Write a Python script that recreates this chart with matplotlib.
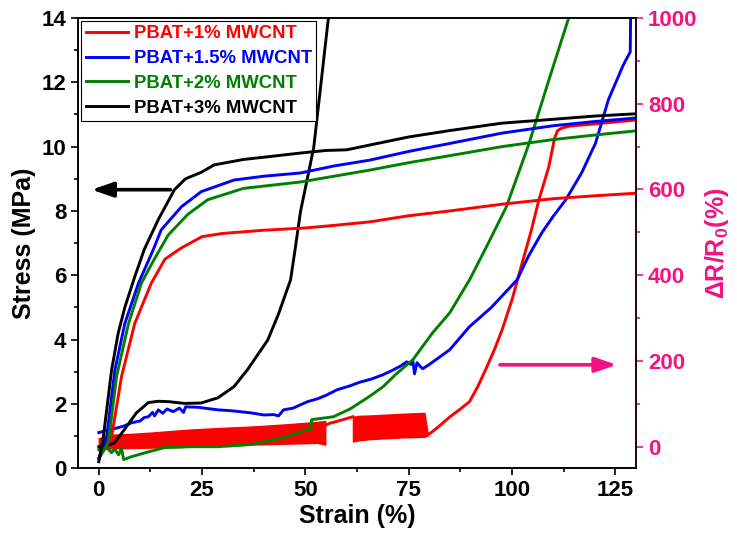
import matplotlib
matplotlib.use('Agg')
import matplotlib.pyplot as plt
from matplotlib.ticker import MultipleLocator

plt.rcParams['font.family'] = ['Liberation Sans', 'DejaVu Sans']
plt.rcParams['font.weight'] = 'bold'
plt.rcParams['mathtext.fontset'] = 'custom'
plt.rcParams['mathtext.bf'] = 'Liberation Sans:bold'
plt.rcParams['mathtext.rm'] = 'Liberation Sans:bold'

PINK = '#F5117F'
labels = ['PBAT+1% MWCNT', 'PBAT+1.5% MWCNT', 'PBAT+2% MWCNT', 'PBAT+3% MWCNT']
colors = ['#FF0000', '#0000FF', '#008000', '#000000']

# stress-strain curves (left axis)
red_s_x = [0, 3.1, 5.5, 8.7, 12.7, 16, 20, 25, 30, 40, 50, 57, 65.6, 75, 85, 97.6, 110, 120, 130]
red_s_y = [0.3, 0.97, 2.85, 4.5, 5.75, 6.5, 6.85, 7.2, 7.3, 7.4, 7.47, 7.55, 7.66, 7.85, 8.0, 8.21, 8.38, 8.47, 8.55]
blue_s_x = [0, 1.9, 3.9, 6.3, 9.6, 13.2, 15.1, 20, 24.8, 32.7, 40, 48.8, 57, 65.6, 75, 85, 97.6, 110, 120, 130]
blue_s_y = [0.3, 0.97, 3.05, 4.5, 5.75, 6.8, 7.41, 8.13, 8.6, 8.96, 9.08, 9.18, 9.4, 9.58, 9.85, 10.1, 10.42, 10.65, 10.78, 10.89]
green_s_x = [0, 2.3, 4.3, 7.2, 10.3, 13, 16.8, 21.6, 26.4, 35, 48.8, 57, 65.6, 75, 85, 97.6, 110, 120, 130]
green_s_y = [0.3, 0.78, 2.85, 4.5, 5.75, 6.4, 7.25, 7.9, 8.35, 8.7, 8.9, 9.08, 9.27, 9.5, 9.72, 10.0, 10.22, 10.36, 10.49]
black_s_x = [0, 1.1, 3.1, 4.7, 6.3, 8.7, 11, 14.4, 18.3, 21, 24.8, 27.9, 35, 42, 48.8, 55, 60, 65.6, 75, 85, 97.6, 110, 120, 130]
black_s_y = [0.2, 0.97, 3.05, 4.2, 5.0, 5.95, 6.8, 7.73, 8.66, 9.0, 9.2, 9.43, 9.6, 9.7, 9.8, 9.88, 9.9, 10.05, 10.3, 10.5, 10.73, 10.85, 10.95, 11.02]

# resistance change curves (right axis)
red_band1_x = [0, 3, 8, 12.7, 18, 22, 30, 36.8, 45, 52.9, 54.8]
red_band1_lo = [-5, -4, -3, -2, -1, 0, 3, 5, 7, 9, 5]
red_band1_hi = [20, 28, 30, 33, 37, 40, 44, 47, 52, 58, 60]
red_band2_x = [61.5, 63, 66, 70, 74, 78.8, 79.6]
red_band2_lo = [12, 15, 18, 20, 22, 23, 26]
red_band2_hi = [70, 72, 73, 75, 77, 79, 30]
red_r1_x = [54.8, 56, 58, 60.8, 61.5]
red_r1_y = [50, 55, 60, 68, 70]
red_r2_x = [79.6, 80, 82, 85, 87.5, 89.7, 91.8, 93.8, 95.8, 97.6, 100, 102.2, 104.5, 106.5, 108.9, 110.3, 111, 112,
            114, 120, 130]
red_r2_y = [28, 30, 45, 70, 88, 105, 142, 184, 228, 273, 343, 420, 499, 576, 653, 720, 737, 743,
            748, 753, 762]

blue_r_x = [0, 3, 6, 8, 10, 11, 12, 13, 13.5, 14.4, 15.5, 16.5, 18, 19.5, 20.5, 21, 24, 28.8, 32, 36.8, 40, 42.3,
            43.5, 44.7, 47, 50.5, 53, 55, 57.7, 60.8, 63, 66, 68.8, 71, 73, 74.5, 75.5, 76, 76.4, 77, 78, 78.4, 80,
            84.9, 89.7, 95, 101.2, 104, 107.2, 110, 113, 116.8, 120.2, 123.3, 126.9, 128.6, 128.7]
blue_r_y = [33, 40, 48, 56, 60, 68, 70, 80, 72, 86, 78, 88, 82, 90, 80, 93, 92, 86, 84, 79, 74, 75,
            72, 86, 90, 105, 112, 120, 133, 142, 150, 158, 168, 178, 188, 198, 192, 200, 170, 196, 185, 182, 192,
            226, 280, 325, 389, 445, 499, 538, 576, 638, 708, 809, 890, 921, 1010]
green_r_x = [0, 1.9, 3.1, 3.8, 4.8, 5.5, 6, 8, 12, 15.9, 22.4, 28.8, 36.8, 44.7, 50.5, 51.3, 51.5, 56.8, 60.8,
             65.6, 68.8, 72, 76, 80.8, 84.9, 89.7, 94, 98.6, 104, 108.9, 113.7, 114]
green_r_y = [-7, -2, -14, -5, -19, -3, -30, -23, -12, -2, 0, 0, 5, 21, 40, 42, 63, 70, 88,
             118, 140, 170, 203, 266, 312, 389, 470, 559, 704, 855, 1000, 1010]
black_r_x = [0, 2, 3.8, 6.2, 9.1, 12, 14.4, 17, 20.7, 24.8, 28.8, 32.7, 36, 40.9, 43.5, 46.4, 47.5, 48.8, 52, 55.5, 55.8]
black_r_y = [0, 3, 9, 40, 79, 103, 106, 105, 101, 102, 114, 140, 180, 249, 310, 389, 460, 548, 697, 995, 1010]

fig, ax = plt.subplots(figsize=(7.37, 5.45), dpi=100)
fig.subplots_adjust(left=0.106, right=0.863, bottom=0.141, top=0.967)
ax2 = ax.twinx()
lw = 2.1

stress = [(red_s_x, red_s_y), (blue_s_x, blue_s_y), (green_s_x, green_s_y), (black_s_x, black_s_y)]
for (sx, sy), c, lab in zip(stress, colors, labels):
    ax.plot(sx, sy, color=c, lw=lw, label=lab)

ax2.fill_between(red_band1_x, red_band1_lo, red_band1_hi, color=colors[0], lw=1)
ax2.fill_between(red_band2_x, red_band2_lo, red_band2_hi, color=colors[0], lw=1)
ax2.plot(red_r1_x, red_r1_y, color=colors[0], lw=lw)
ax2.plot(red_r2_x, red_r2_y, color=colors[0], lw=lw)
ax2.plot(blue_r_x, blue_r_y, color=colors[1], lw=lw)
ax2.plot(green_r_x, green_r_y, color=colors[2], lw=lw)
ax2.plot(black_r_x, black_r_y, color=colors[3], lw=lw)

ax.set_xlim(-5, 130)
ax.set_ylim(0, 14)
ax2.set_ylim(-50, 1000)

ax.xaxis.set_major_locator(MultipleLocator(25))
ax.xaxis.set_minor_locator(MultipleLocator(12.5))
ax.yaxis.set_major_locator(MultipleLocator(2))
ax.yaxis.set_minor_locator(MultipleLocator(1))
ax2.yaxis.set_major_locator(MultipleLocator(200))
ax2.yaxis.set_minor_locator(MultipleLocator(100))

for a in (ax, ax2):
    a.tick_params(which='major', direction='out', length=5, width=1.2, labelsize=16)
    a.tick_params(which='minor', direction='out', length=3, width=1.2)
    for sp in a.spines.values():
        sp.set_linewidth(1.2)
ax.tick_params(axis='y', which='both', right=False)
ax2.tick_params(axis='y', which='both', colors=PINK)
ax2.spines['right'].set_color(PINK)
for t in ax.get_xticklabels() + ax.get_yticklabels() + ax2.get_yticklabels():
    t.set_fontweight('bold')

ax.set_xlabel('Strain (%)', fontsize=18, fontweight='bold', labelpad=2)
ax.set_ylabel('Stress (MPa)', fontsize=18, fontweight='bold', labelpad=4)
ax2.set_ylabel(r'ΔR/R$_\mathbf{0}$(%)', fontsize=18, fontweight='bold', color=PINK, rotation=90, labelpad=4)

ax.annotate('', xy=(-2.4, 8.66), xytext=(18, 8.66),
            arrowprops=dict(arrowstyle='-|>,head_length=1.3,head_width=0.45', color='black', lw=2.6))
ax2.annotate('', xy=(126, 191), xytext=(96.4, 191),
             arrowprops=dict(arrowstyle='-|>,head_length=1.3,head_width=0.45', color=PINK, lw=2.6))

leg = ax.legend(loc='upper left', bbox_to_anchor=(0, 1), borderaxespad=0.15, fontsize=13.3,
                handlelength=2.3, handletextpad=0.3, labelspacing=0.42, borderpad=0.25,
                fancybox=False, edgecolor='black', framealpha=1)
leg.get_frame().set_linewidth(0.8)
for t, c in zip(leg.get_texts(), colors):
    t.set_color(c)
    t.set_fontweight('bold')
ax.set_zorder(ax2.get_zorder() + 1)
ax.patch.set_visible(False)

fig.savefig('out.png', dpi=100)
